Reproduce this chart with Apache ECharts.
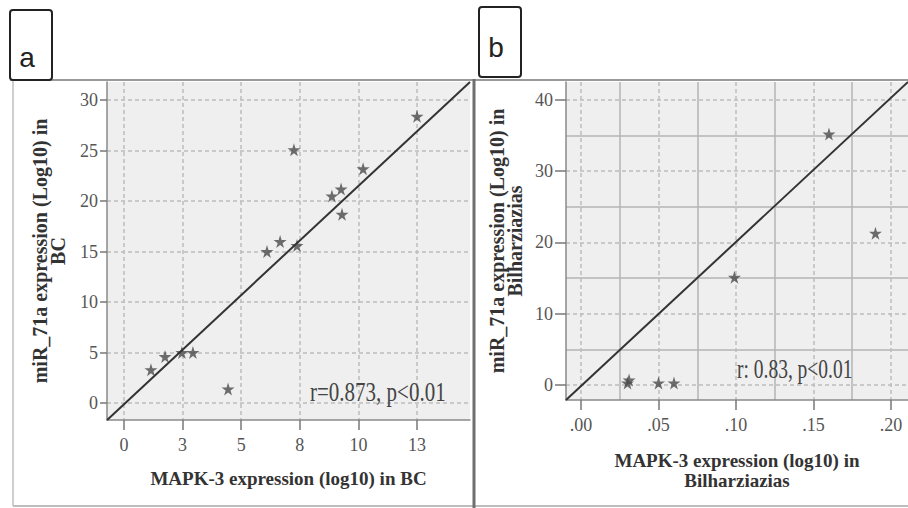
<!DOCTYPE html>
<html><head><meta charset="utf-8">
<script src="https://cdn.jsdelivr.net/npm/echarts@6/dist/echarts.min.js"></script>
<style>html,body{margin:0;padding:0;background:#fff}#c{width:908px;height:508px}</style>
</head><body><div id="c"></div>
<script>
// ---- Panel a data ----
const aXTicks = [0, 2.5, 5, 7.5, 10, 12.5];
const aXTickLabels = ['0', '3', '5', '8', '10', '13'];
const aYTicks = [0, 5, 10, 15, 20, 25, 30];
const aX = [1.15, 1.75, 2.47, 2.94, 4.44, 6.10, 6.66, 7.38, 7.25, 8.87, 9.26, 9.30, 10.20, 12.50];
const aY = [3.3, 4.6, 5.0, 5.0, 1.4, 15.0, 16.0, 15.6, 25.1, 20.5, 21.2, 18.7, 23.2, 28.4];
const aFitX = [-0.72, 14.76];
const aFitY = [-1.68, 31.8];
const aAnnot = 'r=0.873, p<0.01';
const aXName = 'MAPK-3 expression (log10) in BC';
const aYName = 'miR_71a expression (Log10) in\nBC';

// ---- Panel b data ----
const bXTicks = [0, 0.05, 0.10, 0.15, 0.20];
const bXTickLabels = ['.00', '.05', '.10', '.15', '.20'];
const bYTicks = [0, 10, 20, 30, 40];
const bXMinor = [0.025, 0.075, 0.125, 0.175];
const bYMinor = [5, 15, 25, 35];
const bX = [0.030, 0.031, 0.050, 0.060, 0.099, 0.160, 0.190];
const bY = [0.3, 0.7, 0.3, 0.3, 15.1, 35.2, 21.3];
const bFitX = [-0.0097, 0.211];
const bFitY = [-2.1, 42.5];
const bAnnot = 'r: 0.83, p<0.01';
const bXName = 'MAPK-3 expression (log10) in\nBilharziazias';
const bYName = 'miR_71a expression (Log10) in\nBilharziazias';

const STAR = 'path://M50,0 L61,35 L98,35 L68,57 L79,91 L50,70 L21,91 L32,57 L2,35 L39,35 Z';
const SERIF = '"Liberation Serif", "Times New Roman", serif';

function nearestLabel(ticks, labels, v) {
  let best = 0, bd = Infinity;
  ticks.forEach((t, i) => { const d = Math.abs(t - v); if (d < bd) { bd = d; best = i; } });
  return labels[best];
}

function mainAxis(gridIndex, min, max, ticks, labels, tickLen, labelMargin, name, nameGap, isY) {
  return {
    type: 'value', gridIndex, min, max,
    axisLine: { show: true, onZero: false, lineStyle: { color: '#8a8a8a', width: 1.5 } },
    axisTick: { show: true, customValues: ticks, length: tickLen, inside: false, lineStyle: { color: '#777', width: 1.5 } },
    axisLabel: {
      show: true, customValues: ticks, margin: labelMargin,
      fontFamily: SERIF, fontSize: 18, color: '#555',
      formatter: v => labels ? nearestLabel(ticks, labels, v) : String(v)
    },
    splitLine: { show: true, lineStyle: { color: '#bdbdbd', width: 1.5, type: [4, 3] } },
    name, nameLocation: 'middle', nameGap,
    nameTextStyle: { fontFamily: SERIF, fontWeight: 'bold', fontSize: isY ? 20 : 19, color: '#333', lineHeight: isY ? 18 : 20 }
  };
}
function minorAxis(gridIndex, min, max, ticks) {
  return {
    type: 'value', gridIndex, min, max,
    axisLine: { show: false }, axisLabel: { show: false },
    axisTick: { show: false, customValues: ticks },
    splitLine: { show: true, lineStyle: { color: '#b5b5b5', width: 1.5, type: 'solid' } }
  };
}

const aXMin = -0.725, aXMax = 14.76, aYMin = -1.68, aYMax = 31.8;
const bXMin = -0.0097, bXMax = 0.211, bYMin = -2.1, bYMax = 42.5;

const chart = echarts.init(document.getElementById('c'), null, { renderer: 'svg' });
chart.setOption({
  animation: false,
  backgroundColor: '#fff',
  grid: [
    { left: 107, top: 82, width: 363, height: 338, show: true, backgroundColor: '#efefef', borderWidth: 0 },
    { left: 566, top: 82, width: 342, height: 318, show: true, backgroundColor: '#efefef', borderWidth: 0 }
  ],
  xAxis: [
    mainAxis(0, aXMin, aXMax, aXTicks, aXTickLabels, 10, 16, aXName, 48, false),
    mainAxis(1, bXMin, bXMax, bXTicks, bXTickLabels, 10, 16, bXName, 50, false),
    minorAxis(1, bXMin, bXMax, bXMinor)
  ],
  yAxis: [
    mainAxis(0, aYMin, aYMax, aYTicks, null, 7, 9, aYName, 40, true),
    mainAxis(1, bYMin, bYMax, bYTicks, null, 11, 13, bYName, 42, true),
    minorAxis(1, bYMin, bYMax, bYMinor)
  ],
  series: [
    { type: 'line', xAxisIndex: 0, yAxisIndex: 0, symbol: 'none', clip: true,
      data: aFitX.map((x, i) => [x, aFitY[i]]), lineStyle: { color: '#333', width: 2 } },
    { type: 'scatter', xAxisIndex: 0, yAxisIndex: 0, symbol: STAR, symbolSize: 13,
      data: aX.map((x, i) => [x, aY[i]]), itemStyle: { color: '#4a4a4a' } },
    { type: 'line', xAxisIndex: 1, yAxisIndex: 1, symbol: 'none', clip: true,
      data: bFitX.map((x, i) => [x, bFitY[i]]), lineStyle: { color: '#333', width: 2 } },
    { type: 'scatter', xAxisIndex: 1, yAxisIndex: 1, symbol: STAR, symbolSize: 13,
      data: bX.map((x, i) => [x, bY[i]]), itemStyle: { color: '#4a4a4a' } }
  ],
  graphic: [
    { type: 'line', z: 50, shape: { x1: 10, y1: 80, x2: 908, y2: 80 }, style: { stroke: '#9a9a9a', lineWidth: 2 } },
    { type: 'line', z: 50, shape: { x1: 13, y1: 80, x2: 13, y2: 506 }, style: { stroke: '#cfcfcf', lineWidth: 2 } },
    { type: 'line', z: 50, shape: { x1: 13, y1: 506, x2: 908, y2: 506 }, style: { stroke: '#bdbdbd', lineWidth: 2 } },
    { type: 'line', z: 50, shape: { x1: 474, y1: 79, x2: 474, y2: 508 }, style: { stroke: '#6f6f6f', lineWidth: 3 } },
    { type: 'rect', z: 50, shape: { x: 10, y: 10, width: 42, height: 70, r: 3 }, style: { fill: '#fff', stroke: '#222', lineWidth: 2 } },
    { type: 'text', z: 51, x: 27, y: 57, style: { text: 'a', font: '28px "Liberation Sans", Arial, sans-serif', fill: '#222', textAlign: 'center', textVerticalAlign: 'middle' } },
    { type: 'rect', z: 50, shape: { x: 479, y: 7, width: 42, height: 70, r: 3 }, style: { fill: '#fff', stroke: '#222', lineWidth: 2 } },
    { type: 'text', z: 51, x: 496, y: 47, style: { text: 'b', font: '28px "Liberation Sans", Arial, sans-serif', fill: '#222', textAlign: 'center', textVerticalAlign: 'middle' } },
    { type: 'text', z: 60, x: 310, y: 391, scaleY: 1.35, originX: 0, originY: 0,
      style: { text: aAnnot, font: '21px "Liberation Serif", serif', fill: '#444', textAlign: 'left', textVerticalAlign: 'middle' } },
    { type: 'text', z: 60, x: 737, y: 369, scaleY: 1.38, originX: 0, originY: 0,
      style: { text: bAnnot, font: '19.5px "Liberation Serif", serif', fill: '#444', textAlign: 'left', textVerticalAlign: 'middle' } }
  ]
});
</script>
</body></html>
